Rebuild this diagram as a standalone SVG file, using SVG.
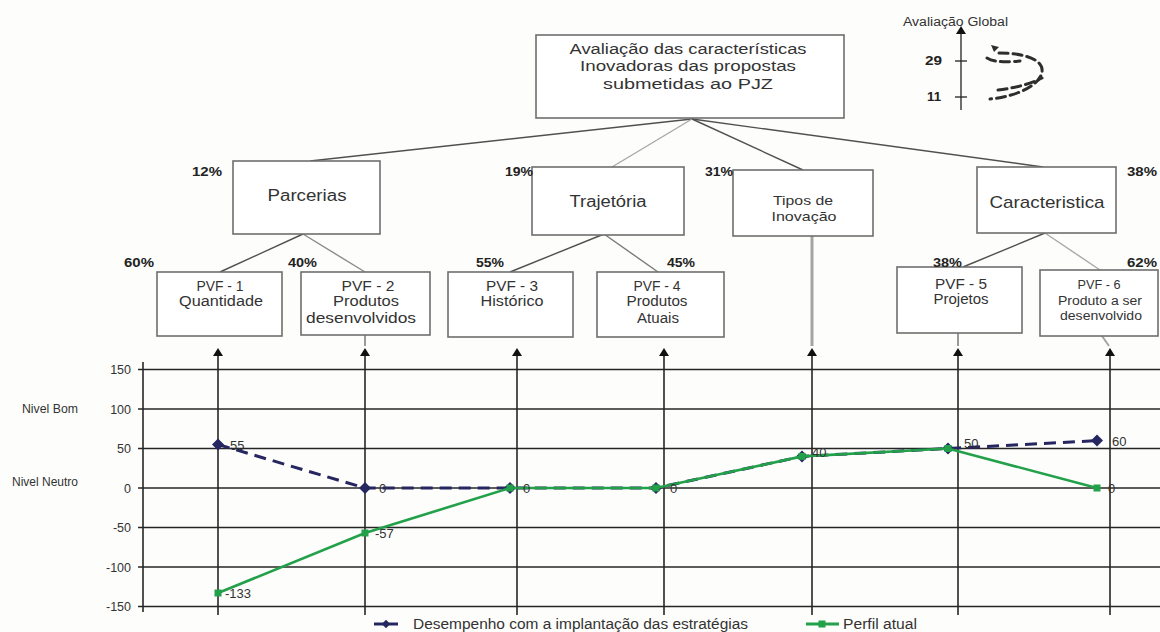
<svg xmlns="http://www.w3.org/2000/svg" width="1160" height="632" viewBox="0 0 1160 632">
  <style>
    .t{font-family:"Liberation Sans",Arial,sans-serif;fill:#333}
    .c{text-anchor:middle}
    .pct{font-family:"Liberation Sans",Arial,sans-serif;font-weight:bold;font-size:12px;fill:#222}
    .box{fill:#fff;stroke:#6e6e6e;stroke-width:1.6}
    .lk{fill:none;stroke:#505050;stroke-width:1.4}
    .lk2{fill:none;stroke:#a8a8a8;stroke-width:1.4}
    .grid{stroke:#262626;stroke-width:1.6}
    .axlab{font-family:"Liberation Sans",Arial,sans-serif;font-size:12.5px;fill:#333;text-anchor:end}
    .dl{font-family:"Liberation Sans",Arial,sans-serif;font-size:13px;fill:#333}
  </style>
  <defs>
    <marker id="tip" viewBox="0 0 8 10" refX="4" refY="5" markerWidth="8" markerHeight="10" markerUnits="userSpaceOnUse" orient="auto">
      <path d="M0,0 L8,5 L0,10 Z" fill="#111"/>
    </marker>
    <path id="dia" d="M0,-6 L6,0 L0,6 L-6,0 Z" fill="#262660"/>
    <rect id="sq" x="-3.5" y="-3.5" width="7" height="7" fill="#22a04a"/>
  </defs>

  <rect width="1160" height="632" fill="#fdfdfb"/>

  <!-- connectors of the hierarchy -->
  <g id="connectors">
    <line class="lk" x1="692" y1="119" x2="310" y2="161"/>
    <line class="lk2" x1="692" y1="119" x2="612" y2="167"/>
    <line class="lk" x1="692" y1="119" x2="803" y2="170"/>
    <line class="lk" x1="692" y1="119" x2="1043" y2="167"/>
    <line class="lk" x1="303" y1="234" x2="220" y2="272"/>
    <line class="lk" style="stroke:#8a8a8a" x1="303" y1="234" x2="365" y2="272"/>
    <line class="lk" x1="604" y1="234" x2="510" y2="272"/>
    <line class="lk" style="stroke:#7a7a7a" x1="604" y1="234" x2="658" y2="272"/>
    <line class="lk" x1="1045" y1="233" x2="963" y2="267"/>
    <line class="lk2" x1="1045" y1="233" x2="1100" y2="270"/>
    <!-- grey leads from boxes down to the chart arrows -->
    <line stroke="#9a9a9a" stroke-width="2" x1="365" y1="335" x2="365" y2="346"/>
    <line stroke="#a4a4a4" stroke-width="3" x1="812" y1="236" x2="812" y2="346"/>
    <line stroke="#9a9a9a" stroke-width="2" x1="958" y1="333" x2="958" y2="346"/>
    <line stroke="#a4a4a4" stroke-width="2" x1="1102" y1="336" x2="1109" y2="346"/>
  </g>

  <g id="root">
    <rect class="box" x="536" y="35" width="308" height="83"/>
    <text class="t c" x="688" y="54" font-size="15.5" textLength="237" lengthAdjust="spacingAndGlyphs">Avaliação das características</text>
    <text class="t c" x="688" y="71" font-size="15.5" textLength="216" lengthAdjust="spacingAndGlyphs">Inovadoras das propostas</text>
    <text class="t c" x="688" y="89" font-size="15.5" textLength="170" lengthAdjust="spacingAndGlyphs">submetidas ao PJZ</text>
  </g>

  <g id="global">
    <text class="t" x="903" y="26" font-size="12" textLength="105" lengthAdjust="spacingAndGlyphs">Avaliação Global</text>
    <line stroke="#222" stroke-width="1.3" x1="961" y1="110" x2="961" y2="30" marker-end="url(#tip)"/>
    <line stroke="#222" stroke-width="1.3" x1="955" y1="61" x2="967" y2="61"/>
    <line stroke="#222" stroke-width="1.3" x1="955" y1="97" x2="967" y2="97"/>
    <text class="pct" x="925" y="65" textLength="17" lengthAdjust="spacingAndGlyphs">29</text>
    <text class="pct" x="927" y="101" textLength="14" lengthAdjust="spacingAndGlyphs">11</text>
    <g fill="none" stroke="#2e2e2e" stroke-width="3" stroke-dasharray="9 5" stroke-linecap="round">
      <path d="M999 53 C1025 53 1044 60 1042 72 C1040 84 1020 96 990 99"/>
      <path d="M987 58 C995 63 1010 62 1020 61"/>
      <path d="M998 90 C1015 88 1030 84 1042 78"/>
    </g>
    <path d="M991 45 L999 47 L994 52 Z" fill="#2e2e2e"/>
  </g>

  <g id="parcerias">
    <rect class="box" x="233" y="161" width="147" height="73"/>
    <text class="t c" x="307" y="201" font-size="16" textLength="79" lengthAdjust="spacingAndGlyphs">Parcerias</text>
    <text class="pct" x="192" y="176" textLength="30" lengthAdjust="spacingAndGlyphs">12%</text>
  </g>
  <g id="trajetoria">
    <rect class="box" x="532" y="167" width="152" height="68"/>
    <text class="t c" x="608" y="207" font-size="16" textLength="77" lengthAdjust="spacingAndGlyphs">Trajetória</text>
    <text class="pct" x="505" y="176" textLength="28" lengthAdjust="spacingAndGlyphs">19%</text>
  </g>
  <g id="tipos">
    <rect class="box" x="733" y="170" width="140" height="66"/>
    <text class="t c" x="803" y="205" font-size="13" textLength="60" lengthAdjust="spacingAndGlyphs">Tipos de</text>
    <text class="t c" x="804" y="221" font-size="13" textLength="65" lengthAdjust="spacingAndGlyphs">Inovação</text>
    <text class="pct" x="705" y="176" textLength="28" lengthAdjust="spacingAndGlyphs">31%</text>
  </g>
  <g id="caracteristica">
    <rect class="box" x="977" y="167" width="139" height="66"/>
    <text class="t c" x="1047" y="208" font-size="17" textLength="115" lengthAdjust="spacingAndGlyphs">Caracteristica</text>
    <text class="pct" x="1127" y="176" textLength="30" lengthAdjust="spacingAndGlyphs">38%</text>
  </g>

  <g id="pvf1">
    <rect class="box" x="157" y="272" width="125" height="64"/>
    <text class="t c" x="220" y="291" font-size="14" textLength="47" lengthAdjust="spacingAndGlyphs">PVF - 1</text>
    <text class="t c" x="221" y="306" font-size="14" textLength="84" lengthAdjust="spacingAndGlyphs">Quantidade</text>
    <text class="pct" x="124" y="267" textLength="30" lengthAdjust="spacingAndGlyphs">60%</text>
  </g>
  <g id="pvf2">
    <rect class="box" x="301" y="272" width="129" height="63"/>
    <text class="t c" x="368" y="291" font-size="14" textLength="53" lengthAdjust="spacingAndGlyphs">PVF - 2</text>
    <text class="t c" x="366" y="306" font-size="14" textLength="66" lengthAdjust="spacingAndGlyphs">Produtos</text>
    <text class="t c" x="361" y="323" font-size="14" textLength="110" lengthAdjust="spacingAndGlyphs">desenvolvidos</text>
    <text class="pct" x="288" y="267" textLength="29" lengthAdjust="spacingAndGlyphs">40%</text>
  </g>
  <g id="pvf3">
    <rect class="box" x="448" y="272" width="125" height="65"/>
    <text class="t c" x="512" y="291" font-size="14" textLength="52" lengthAdjust="spacingAndGlyphs">PVF - 3</text>
    <text class="t c" x="512" y="306" font-size="14" textLength="63" lengthAdjust="spacingAndGlyphs">Histórico</text>
    <text class="pct" x="476" y="267" textLength="28" lengthAdjust="spacingAndGlyphs">55%</text>
  </g>
  <g id="pvf4">
    <rect class="box" x="597" y="272" width="127" height="65"/>
    <text class="t c" x="657" y="291" font-size="14" textLength="47" lengthAdjust="spacingAndGlyphs">PVF - 4</text>
    <text class="t c" x="657" y="306" font-size="14" textLength="61" lengthAdjust="spacingAndGlyphs">Produtos</text>
    <text class="t c" x="658" y="323" font-size="14" textLength="42" lengthAdjust="spacingAndGlyphs">Atuais</text>
    <text class="pct" x="667" y="267" textLength="28" lengthAdjust="spacingAndGlyphs">45%</text>
  </g>
  <g id="pvf5">
    <rect class="box" x="897" y="267" width="125" height="66"/>
    <text class="t c" x="961" y="289" font-size="14" textLength="52" lengthAdjust="spacingAndGlyphs">PVF - 5</text>
    <text class="t c" x="961" y="304" font-size="14" textLength="55" lengthAdjust="spacingAndGlyphs">Projetos</text>
    <text class="pct" x="933" y="267" textLength="29" lengthAdjust="spacingAndGlyphs">38%</text>
  </g>
  <g id="pvf6">
    <rect class="box" x="1040" y="270" width="118" height="66"/>
    <text class="t c" x="1099" y="289" font-size="12.5" textLength="43" lengthAdjust="spacingAndGlyphs">PVF - 6</text>
    <text class="t c" x="1100" y="305" font-size="12.5" textLength="84" lengthAdjust="spacingAndGlyphs">Produto a ser</text>
    <text class="t c" x="1101" y="320" font-size="12.5" textLength="82" lengthAdjust="spacingAndGlyphs">desenvolvido</text>
    <text class="pct" x="1127" y="267" textLength="30" lengthAdjust="spacingAndGlyphs">62%</text>
  </g>

  <!-- chart: grid, axis and category lines -->
  <g id="chart-grid">
    <line class="grid" x1="138" y1="369.5" x2="1160" y2="369.5"/>
    <line class="grid" x1="138" y1="409" x2="1160" y2="409"/>
    <line class="grid" x1="138" y1="448.5" x2="1160" y2="448.5"/>
    <line class="grid" x1="138" y1="488" x2="1160" y2="488"/>
    <line class="grid" x1="138" y1="527.5" x2="1160" y2="527.5"/>
    <line class="grid" x1="138" y1="567" x2="1160" y2="567"/>
    <line class="grid" x1="138" y1="606.5" x2="1160" y2="606.5"/>
    <line class="grid" x1="143" y1="362" x2="143" y2="612"/>
    <g marker-end="url(#tip)">
      <line class="grid" x1="218" y1="615" x2="218" y2="352"/>
      <line class="grid" x1="365" y1="615" x2="365" y2="352"/>
      <line class="grid" x1="517" y1="615" x2="517" y2="352"/>
      <line class="grid" x1="664" y1="615" x2="664" y2="352"/>
      <line class="grid" x1="812" y1="615" x2="812" y2="352"/>
      <line class="grid" x1="958" y1="615" x2="958" y2="352"/>
      <line class="grid" x1="1110" y1="615" x2="1110" y2="352"/>
    </g>
  </g>

  <g id="chart-labels">
    <text class="axlab" x="131" y="374">150</text>
    <text class="axlab" x="131" y="413.5">100</text>
    <text class="axlab" x="131" y="453">50</text>
    <text class="axlab" x="131" y="492.5">0</text>
    <text class="axlab" x="131" y="532">-50</text>
    <text class="axlab" x="131" y="571.5">-100</text>
    <text class="axlab" x="131" y="611">-150</text>
    <text class="t" x="22" y="413" font-size="12" textLength="56" lengthAdjust="spacingAndGlyphs">Nivel Bom</text>
    <text class="t" x="12" y="486" font-size="12" textLength="66" lengthAdjust="spacingAndGlyphs">Nivel Neutro</text>
  </g>

  <!-- series: performance with the strategies (navy, dashed) -->
  <g id="serie-desempenho">
    <polyline fill="none" stroke="#262660" stroke-width="3" stroke-dasharray="12 7" points="218,444.5 365,488 510,488 656,488 802,456.4 948,448.5 1097,440.6"/>
    <use href="#dia" x="218" y="444.5"/>
    <use href="#dia" x="365" y="488"/>
    <use href="#dia" x="510" y="488"/>
    <use href="#dia" x="656" y="488"/>
    <use href="#dia" x="802" y="456.4"/>
    <use href="#dia" x="948" y="448.5"/>
    <use href="#dia" x="1097" y="440.6"/>
  </g>

  <!-- series: current profile (green) -->
  <g id="serie-perfil">
    <polyline fill="none" stroke="#22a04a" stroke-width="2.6" points="218,593 365,533 510,488 656,488 802,456.4 948,448.5 1097,488"/>
    <use href="#sq" x="218" y="593"/>
    <use href="#sq" x="365" y="533"/>
    <use href="#sq" x="510" y="488"/>
    <use href="#sq" x="656" y="488"/>
    <use href="#sq" x="802" y="456.4"/>
    <use href="#sq" x="948" y="448.5"/>
    <use href="#sq" x="1097" y="488"/>
  </g>

  <g id="data-labels">
    <text class="dl" x="230" y="450">55</text>
    <text class="dl" x="379" y="493">0</text>
    <text class="dl" x="375" y="538">-57</text>
    <text class="dl" x="225" y="598">-133</text>
    <text class="dl" x="523" y="493">0</text>
    <text class="dl" x="670" y="493">0</text>
    <text class="dl" x="812" y="457">40</text>
    <text class="dl" x="964" y="448">50</text>
    <text class="dl" x="1112" y="446">60</text>
    <text class="dl" x="1108" y="493" fill="#a33">0</text>
  </g>

  <g id="legend">
    <line stroke="#262660" stroke-width="3" x1="374" y1="624" x2="398" y2="624"/>
    <use href="#dia" x="386" y="624" transform="translate(386 624) scale(0.7) translate(-386 -624)"/>
    <text class="t" x="413" y="629" font-size="14" textLength="335" lengthAdjust="spacingAndGlyphs">Desempenho com a implantação das estratégias</text>
    <line stroke="#22a04a" stroke-width="3" x1="806" y1="624" x2="839" y2="624"/>
    <use href="#sq" x="822" y="624"/>
    <text class="t" x="843" y="629" font-size="14" textLength="74" lengthAdjust="spacingAndGlyphs">Perfil atual</text>
  </g>
</svg>
